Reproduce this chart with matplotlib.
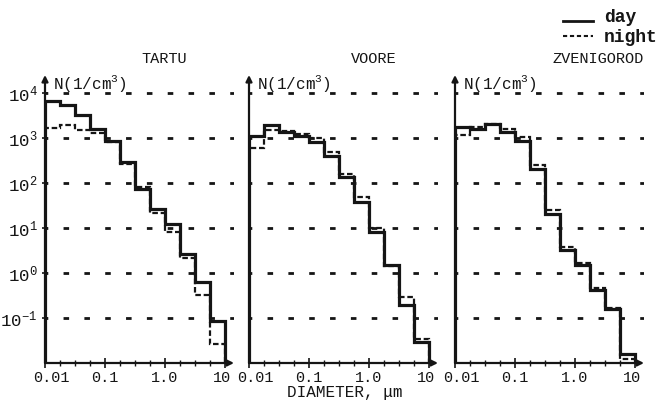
import numpy as np
import matplotlib
matplotlib.use("Agg")
import matplotlib.pyplot as plt
import matplotlib.transforms as mtransforms
from matplotlib.ticker import FixedLocator, NullLocator
from matplotlib.lines import Line2D

plt.rcParams['font.family'] = ['Liberation Mono', 'DejaVu Sans']
plt.rcParams['mathtext.fontset'] = 'custom'
plt.rcParams['mathtext.rm'] = 'Liberation Mono'
plt.rcParams['mathtext.it'] = 'Liberation Mono:italic'
plt.rcParams['lines.scale_dashes'] = False

# bin edges: quarter decades from 0.01 to 10 um
edges = [0.01, 0.0178, 0.0316, 0.0562, 0.1, 0.178, 0.316, 0.562,
         1.0, 1.78, 3.16, 5.62, 10.0]

stations = ["TARTU", "VOORE", "ZVENIGOROD"]

# N (1/cm^3)
tartu_day = [6600, 5500, 3200, 1600, 870, 290, 74, 27, 12, 2.7, 0.63, 0.087]
tartu_night = [1700, 1900, 1500, 1260, 810, 270, 83, 22, 8.1, 2.2, 0.32, 0.027]
voore_day = [1100, 1950, 1350, 1120, 830, 400, 135, 38, 8.1, 1.5, 0.19, 0.029]
voore_night = [590, 1500, 1400, 1200, 1000, 500, 160, 48, 10, 1.4, 0.29, 0.035]
zven_day = [1800, 1600, 2000, 1350, 870, 210, 21, 3.3, 1.5, 0.41, 0.16, 0.016]
zven_night = [1150, 1750, 2000, 1600, 1050, 250, 25, 3.7, 1.7, 0.47, 0.17, 0.0125]

day = [tartu_day, voore_day, zven_day]
night = [tartu_night, voore_night, zven_night]

xticks = [0.01, 0.1, 1.0, 10.0]
xticklabels = ["0.01", "0.1", "1.0", "10"]
ydecades = [-1, 0, 1, 2, 3, 4]

W, H = 670, 404
fig = plt.figure(figsize=(6.7, 4.04), dpi=100)
ink = '#151515'

lefts = [45, 249, 455]
title_x = [164, 374, 598]
for i, left in enumerate(lefts):
    ax = fig.add_axes([left / W, (H - 363) / H, 189 / W, 288 / H])
    ax.set_xscale('log')
    ax.set_yscale('log')
    ax.set_xlim(0.01, 10 ** 1.15)
    ax.set_ylim(1e-2, 10 ** 4.4)
    for s in ax.spines.values():
        s.set_visible(False)
    ax.patch.set_alpha(0)

    # dotted level lines
    for k in ydecades:
        ax.axhline(10.0 ** k, color=ink, lw=2.0, linestyle=(2, (4, 11)), zorder=1)

    ax.stairs(day[i], edges, baseline=1e-2, color=ink, lw=2.3, zorder=3)
    ax.stairs(night[i], edges, baseline=1e-2, color=ink, lw=1.6,
              linestyle=(0, (4, 2)), zorder=3)

    # axes with arrows
    ax.annotate('', xy=(1, 0), xytext=(0, 0), xycoords='axes fraction',
                arrowprops=dict(arrowstyle='-|>', color=ink, lw=1.6, mutation_scale=9,
                                shrinkA=0, shrinkB=0))
    ax.annotate('', xy=(0, 1), xytext=(0, 0), xycoords='axes fraction',
                arrowprops=dict(arrowstyle='-|>', color=ink, lw=1.6, mutation_scale=9,
                                shrinkA=0, shrinkB=0))

    ax.xaxis.set_major_locator(FixedLocator(xticks))
    ax.set_xticklabels(xticklabels)
    minor = [10 ** p for p in np.arange(-1.75, 1.01, 0.25) if abs(p - round(p)) > 0.01]
    ax.xaxis.set_minor_locator(FixedLocator(minor))
    ax.tick_params(axis='x', which='major', direction='inout', length=7, width=1.2,
                   color=ink, labelsize=11, pad=2, labelcolor=ink)
    ax.tick_params(axis='x', which='minor', direction='inout', length=4, width=1.0,
                   color=ink)
    # nudge end labels apart so neighbouring panels do not collide
    labs = ax.get_xticklabels()
    labs[0].set_transform(labs[0].get_transform() +
                          mtransforms.ScaledTranslation(6 / 100, 0, fig.dpi_scale_trans))
    labs[-1].set_transform(labs[-1].get_transform() +
                           mtransforms.ScaledTranslation(-3 / 100, 0, fig.dpi_scale_trans))

    ax.yaxis.set_minor_locator(NullLocator())
    if i == 0:
        ax.yaxis.set_major_locator(FixedLocator([10.0 ** k for k in ydecades]))
        ax.set_yticklabels([r'$\mathregular{10^{%d}}$' % k for k in ydecades])
        ax.tick_params(axis='y', direction='inout', length=5, width=1.2, color=ink,
                       labelsize=12.5, pad=3, labelcolor=ink)
    else:
        ax.yaxis.set_major_locator(NullLocator())

    ax.text(0.0135, 10 ** 4.2, r'N(1/cm$\mathregular{^3}$)', fontsize=11.5,
            color=ink, va='center', ha='left')
    fig.text(title_x[i] / W, 1 - 59 / H, stations[i], fontsize=11, color=ink,
             ha='center', va='center')

fig.text(345 / W, 1 - 393 / H, "DIAMETER, μm", fontsize=11.5, color=ink,
         ha='center', va='center')

# legend
fig.add_artist(Line2D([563 / W, 593 / W], [1 - 21 / H] * 2, color=ink, lw=2))
fig.add_artist(Line2D([563 / W, 593 / W], [1 - 36 / H] * 2, color=ink, lw=1.5,
                      linestyle=(0, (3, 2))))
fig.text(604 / W, 1 - 17 / H, "day", fontsize=13, color=ink, ha='left',
         va='center', fontweight='bold')
fig.text(604 / W, 1 - 38 / H, "night", fontsize=13, color=ink, ha='left',
         va='center', fontweight='bold')

fig.savefig("out.png", dpi=100)
